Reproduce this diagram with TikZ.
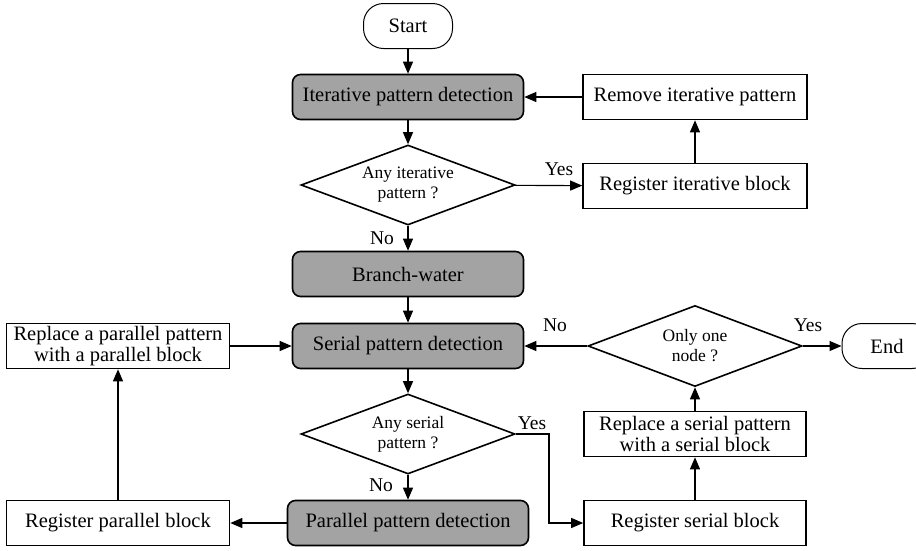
\documentclass[tikz,border=0pt]{standalone}
\usepackage{fontspec}
\setmainfont{Liberation Serif}
\usetikzlibrary{shapes.geometric,arrows.meta}
\definecolor{boxgray}{RGB}{163,163,163}
\tikzset{
  base/.style={draw=black, line width=1.6pt, inner sep=0pt, align=center,
    font=\fontsize{20.5}{21}\selectfont},
  plainbox/.style={base, rectangle, minimum height=45pt},
  graybox/.style={base, rectangle, rounded corners=8pt, fill=boxgray, minimum width=231pt, minimum height=45pt},
  term/.style={base, rectangle, rounded corners=20pt, line width=1pt, minimum width=89pt, minimum height=45pt},
  decision/.style={base, diamond, aspect=2.7, minimum width=214pt, minimum height=80pt,
    font=\fontsize{17.5}{20}\selectfont},
  lab/.style={font=\fontsize{19.5}{20}\selectfont, inner sep=0pt},
  arr/.style={line width=1.1pt, -{Triangle[length=12pt,width=10pt]}}
}
\begin{document}
\begin{tikzpicture}[x=1pt,y=-1pt]
\useasboundingbox (0,0) rectangle (916,550);
\node[term] (start) at (408,26) {Start};
\node[graybox] (ipd) at (408,97) {Iterative pattern detection};
\node[plainbox, minimum width=224pt] (rip) at (695,97) {Remove iterative pattern};
\node[decision] (d1) at (408,185) {Any iterative\\pattern ?};
\node[plainbox, minimum width=224pt] (rib) at (695,186) {Register iterative block};
\node[graybox] (bw) at (408,274) {Branch-water};
\node[graybox] (spd) at (408,346) {Serial pattern detection};
\node[plainbox, minimum width=223pt] (rpp) at (118,346) {Replace a parallel pattern\\with a parallel block};
\node[decision] (d2) at (408,434) {Any serial\\pattern ?};
\node[graybox, minimum width=241pt] (ppd) at (408,523) {Parallel pattern detection};
\node[plainbox, minimum width=223pt] (rpb) at (118,523) {Register parallel block};
\node[decision, minimum height=81pt] (d3) at (695,346) {Only one\\node ?};
\node[term, minimum width=90pt] (end) at (887,346) {End};
\node[plainbox, minimum width=222pt] (rsp) at (695,434) {Replace a serial pattern\\with a serial block};
\node[plainbox, minimum width=222pt] (rsb) at (695,523) {Register serial block};
\coordinate (bend1) at (549,434);
\coordinate (bend2) at (549,523);

\draw[arr] (start) -- (ipd);
\draw[arr] (rip) -- (ipd);
\draw[arr] (ipd) -- (d1);
\draw[arr] (d1) -- (rib);
\draw[arr] (rib) -- (rip);
\draw[arr] (d1) -- (bw);
\draw[arr] (bw) -- (spd);
\draw[arr] (spd) -- (d2);
\draw[arr] (d2) -- (ppd);
\draw[arr] (ppd) -- (rpb);
\draw[arr] (rpb) -- (rpp);
\draw[arr] (rpp) -- (spd);
\draw[arr] (d2.east) -- (bend1) -- (bend2) -- (rsb.west);
\draw[arr] (rsb) -- (rsp);
\draw[arr] (rsp) -- (d3);
\draw[arr] (d3) -- (spd);
\draw[arr] (d3) -- (end);

\node[lab] (y1) at (559,169) {Yes};
\node[lab] (n1) at (382,238) {No};
\node[lab] (n2) at (381,485) {No};
\node[lab] (y2) at (532,423) {Yes};
\node[lab] (n3) at (555,325) {No};
\node[lab] (y3) at (808,325) {Yes};
\end{tikzpicture}
\end{document}
